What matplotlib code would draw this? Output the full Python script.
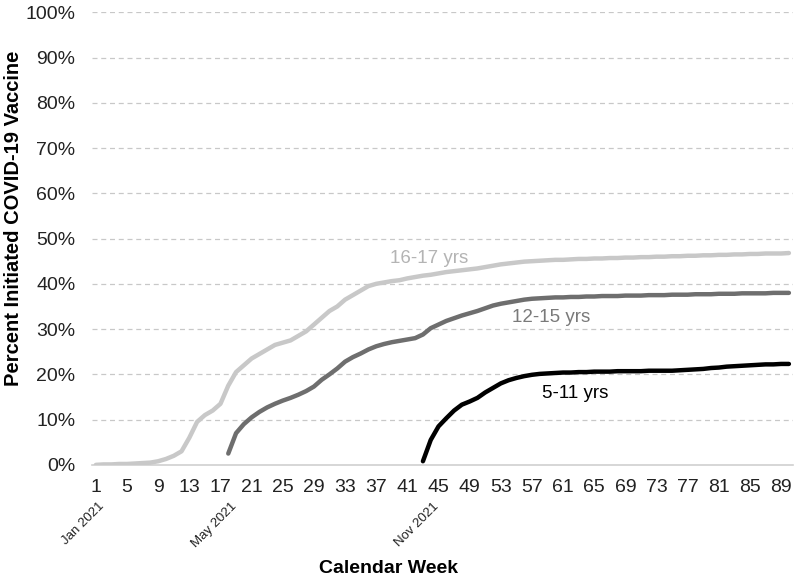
import matplotlib
matplotlib.use("Agg")
from matplotlib import pyplot as plt
import matplotlib.transforms as mtransforms

plt.rcParams['font.family'] = ['Liberation Sans', 'DejaVu Sans']

# weekly cumulative percent initiated, by age group
weeks_1617 = list(range(1, 91))
pct_1617 = [0.0, 0.1, 0.1, 0.2, 0.2, 0.3, 0.4, 0.5, 0.8, 1.3,
            2.0, 3.0, 6.0, 9.5, 11.0, 12.0, 13.5, 17.5, 20.5, 22.0,
            23.5, 24.5, 25.5, 26.5, 27.0, 27.5, 28.5, 29.5, 31.0, 32.5,
            34.0, 35.0, 36.5, 37.5, 38.5, 39.5, 40.0, 40.3, 40.6, 40.8,
            41.2, 41.5, 41.8, 42.0, 42.3, 42.6, 42.8, 43.0, 43.2, 43.4,
            43.7, 44.0, 44.3, 44.5, 44.7, 44.9, 45.0, 45.1, 45.2, 45.3,
            45.3, 45.4, 45.5, 45.5, 45.6, 45.6, 45.7, 45.7, 45.8, 45.8,
            45.9, 45.9, 46.0, 46.0, 46.1, 46.1, 46.2, 46.2, 46.3, 46.3,
            46.4, 46.4, 46.5, 46.5, 46.6, 46.6, 46.7, 46.7, 46.7, 46.8]

weeks_1215 = list(range(18, 91))
pct_1215 = [2.5, 7.0, 9.0, 10.5, 11.7, 12.7, 13.5, 14.2, 14.8, 15.5,
            16.3, 17.3, 18.8, 20.0, 21.3, 22.8, 23.8, 24.6, 25.5, 26.2,
            26.7, 27.1, 27.4, 27.7, 28.0, 28.8, 30.2, 31.0, 31.8, 32.4,
            33.0, 33.5, 34.0, 34.6, 35.2, 35.6, 35.9, 36.2, 36.5, 36.7,
            36.8, 36.9, 37.0, 37.0, 37.1, 37.1, 37.2, 37.2, 37.3, 37.3,
            37.3, 37.4, 37.4, 37.4, 37.5, 37.5, 37.5, 37.6, 37.6, 37.6,
            37.7, 37.7, 37.7, 37.8, 37.8, 37.8, 37.9, 37.9, 37.9, 37.9,
            38.0, 38.0, 38.0]

weeks_511 = list(range(43, 91))
pct_511 = [0.8, 5.5, 8.5, 10.3, 12.0, 13.3, 14.0, 14.8, 16.0, 17.0,
           18.0, 18.7, 19.2, 19.6, 19.9, 20.1, 20.2, 20.3, 20.4, 20.4,
           20.5, 20.5, 20.6, 20.6, 20.6, 20.7, 20.7, 20.7, 20.7, 20.8,
           20.8, 20.8, 20.8, 20.9, 21.0, 21.1, 21.2, 21.4, 21.5, 21.7,
           21.8, 21.9, 22.0, 22.1, 22.2, 22.2, 22.3, 22.3]

week_ticks = list(range(1, 90, 4))
month_labels = ['Jan 2021', 'May 2021', 'Nov 2021']
month_weeks = [1, 18, 44]

fig = plt.figure(figsize=(8, 5.84), dpi=100)
ax = fig.add_axes([0.115, 0.204, 0.876, 0.775])

ax.plot(weeks_1617, pct_1617, color='#c8c8c8', lw=3.2, solid_capstyle='round', zorder=3)
ax.plot(weeks_1215, pct_1215, color='#6e6e6e', lw=3.2, solid_capstyle='round', zorder=3)
ax.plot(weeks_511, pct_511, color='#000000', lw=3.2, solid_capstyle='round', zorder=3)

ax.text(43.8, 45.5, '16-17 yrs', color='#b4b4b4', fontsize=13.5, ha='center', va='center')
ax.text(59.5, 32.6, '12-15 yrs', color='#7a7a7a', fontsize=13.5, ha='center', va='center')
ax.text(62.5, 15.7, '5-11 yrs', color='#000000', fontsize=13.5, ha='center', va='center')

ax.set_xlim(0.5, 90.5)
ax.set_ylim(0, 100)
ax.set_yticks(range(0, 101, 10))
ax.set_yticklabels([f'{v}%' for v in range(0, 101, 10)], fontsize=14, color='#222222')
ax.set_xticks(week_ticks)
ax.set_xticklabels([str(w) for w in week_ticks], fontsize=14, color='#222222')
ax.tick_params(axis='y', length=0, pad=12)
ax.tick_params(axis='x', length=0, pad=10)

for y in range(10, 101, 10):
    ax.axhline(y, color='#c8c8c8', lw=0.9, ls=(0, (4, 3)), zorder=1)
for s in ['top', 'right', 'left']:
    ax.spines[s].set_visible(False)
ax.spines['bottom'].set_color('#d0d0d0')
ax.spines['bottom'].set_linewidth(1.2)

trans = mtransforms.blended_transform_factory(ax.transData, ax.transAxes)
for lab, w in zip(month_labels, month_weeks):
    ax.text(w + 0.3, -0.078, lab, transform=trans, rotation=45, ha='right', va='top',
            fontsize=9.5, rotation_mode='anchor', color='#222222')

fig.text(0.486, 0.012, 'Calendar Week', fontsize=14, fontweight='bold', ha='center', va='bottom')
fig.text(0.017, 0.627, 'Percent Initiated COVID-19 Vaccine', fontsize=14.5, fontweight='bold',
         rotation=90, ha='center', va='center')

fig.savefig('out.png', dpi=100)
